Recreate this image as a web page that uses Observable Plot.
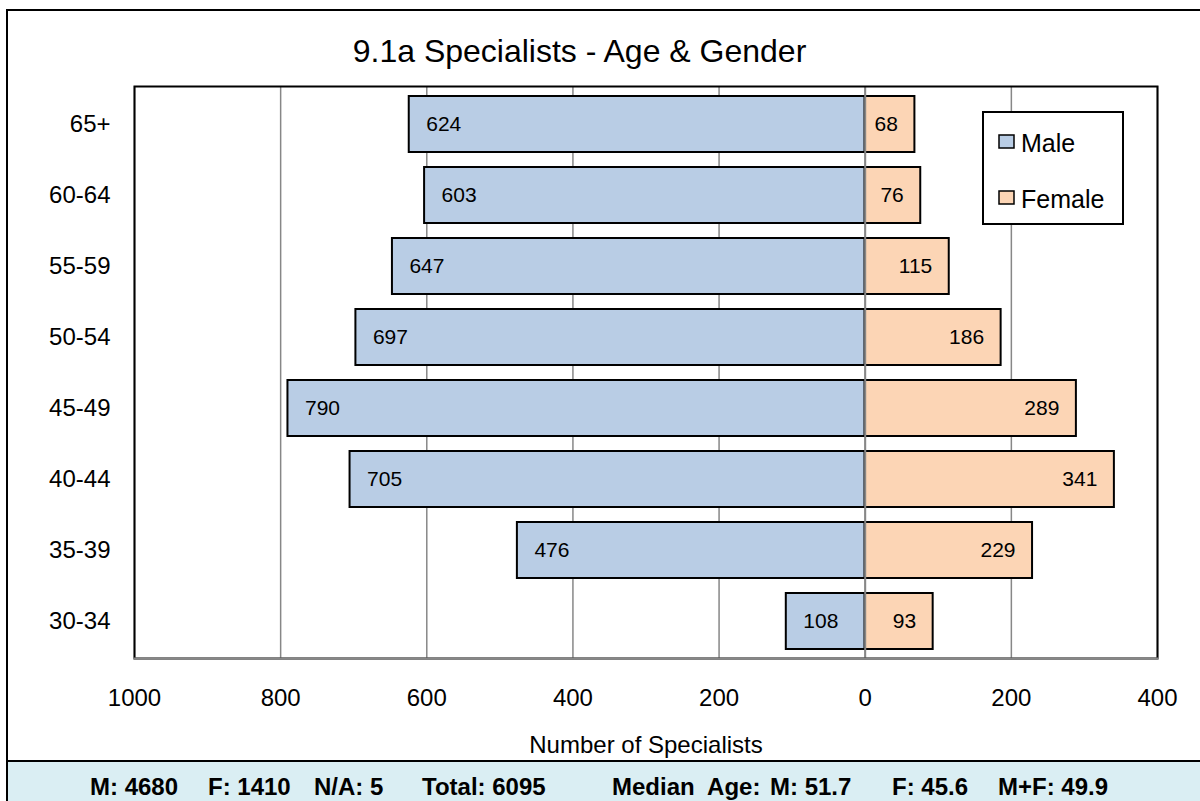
<!DOCTYPE html>
<html>
<head>
<meta charset="utf-8">
<script src="https://cdn.jsdelivr.net/npm/d3@7"></script>
<script src="https://cdn.jsdelivr.net/npm/@observablehq/plot@0.6"></script>
<style>
  body { margin: 0; background: #fff; }
  #chart { position: relative; width: 1200px; height: 801px; overflow: hidden;
           font-family: "Liberation Sans", Arial, sans-serif; color: #000; background: #fff; }
  #border { position: absolute; left: 6px; top: 9px; width: 1300px; height: 900px;
            border-left: 2px solid #000; border-top: 2px solid #000; pointer-events: none; z-index: 5; }
  #title { position: absolute; left: 0; top: 0; width: 1159px; height: 75px; text-align: center;
           font-size: 32px; line-height: 32px; }
  #title span { position: relative; top: 35px; }
  #plot { position: absolute; left: 0; top: 75px; }
  #footer { position: absolute; left: 7px; top: 760px; width: 1200px; height: 41px;
            border-top: 2px solid #000; background: #DAEEF3; font-weight: bold; font-size: 24px; }
  #footer span { position: absolute; top: 13px; line-height: 24px; white-space: pre; }
</style>
</head>
<body>
<div id="chart">
  <div id="title"><span>9.1a Specialists - Age &amp; Gender</span></div>
  <div id="plot"></div>
  <div id="footer"></div>
  <div id="border"></div>
</div>
<script>
// ---- data ----
const ages = ["65+", "60-64", "55-59", "50-54", "45-49", "40-44", "35-39", "30-34"];
const male = [624, 603, 647, 697, 790, 705, 476, 108];
const female = [68, 76, 115, 186, 289, 341, 229, 93];
const series = ["Male", "Female"];
const xTicks = [-1000, -800, -600, -400, -200, 0, 200, 400];
const axisTitle = "Number of Specialists";
const totalLabels = ["M", "F", "N/A", "Total"];
const totalValues = [4680, 1410, 5, 6095];
const medianLabels = ["M", "F", "M+F"];
const medianValues = [51.7, 45.6, 49.9];

// ---- build table ----
const rows = [];
ages.forEach((a, i) => {
  rows.push({age: a, sex: "Male", value: -male[i], label: male[i]});
  rows.push({age: a, sex: "Female", value: female[i], label: female[i]});
});
const maleRows = rows.filter(d => d.sex === "Male");
const femaleRows = rows.filter(d => d.sex === "Female");

const font = '"Liberation Sans", Arial, sans-serif';
const H = 687;

const chart = Plot.plot({
  width: 1200,
  height: H,
  marginTop: 11,
  marginBottom: 104,
  marginLeft: 134,
  marginRight: 43,
  style: {fontFamily: font, fontSize: "22px", color: "#000", background: "transparent", overflow: "visible"},
  x: {domain: [-1000, 400], label: null},
  y: {domain: ages, paddingInner: 0.217, paddingOuter: 0.1085, label: null},
  color: {domain: series, range: ["#B9CDE5", "#FCD5B5"]},
  marks: [
    Plot.gridX(xTicks, {stroke: "#878787", strokeOpacity: 1, strokeWidth: 1.5}),
    Plot.barX(rows, {x: "value", y: "age", fill: "sex", stroke: "#000", strokeWidth: 2}),
    Plot.ruleX([0], {stroke: "#878787", strokeWidth: 2}),
    Plot.text(maleRows, {x: "value", y: "age", text: "label", textAnchor: "start", dx: 17, fontSize: 21, fill: "#000"}),
    Plot.text(femaleRows, {x: "value", y: "age", text: "label", textAnchor: "end", dx: -17, fontSize: 21, fill: "#000"}),
    Plot.frame({stroke: "#000", strokeWidth: 2}),
    Plot.frame({anchor: "bottom", stroke: "#878787", strokeWidth: 2}),
    Plot.axisX(xTicks, {tickSize: 0, tickPadding: 30, fontSize: 24, tickFormat: d => String(Math.abs(d)), label: null}),
    Plot.axisY({tickSize: 0, tickPadding: 24, fontSize: 24, label: null}),
    Plot.text([axisTitle], {frameAnchor: "bottom", dy: 94, lineAnchor: "bottom", fontSize: 24, fill: "#000"})
  ]
});
document.getElementById("plot").appendChild(chart);

// ---- legend inside the svg ----
const svg = d3.select(chart);
const lg = svg.append("g").attr("font-family", font).attr("font-size", 25).attr("text-anchor", "start");
lg.append("rect").attr("x", 983).attr("y", 37).attr("width", 140).attr("height", 112)
  .attr("fill", "#fff").attr("stroke", "#000").attr("stroke-width", 2);
const colorScale = chart.scale("color");
series.forEach((s, i) => {
  const y0 = 60 + i * 56;
  lg.append("rect").attr("x", 999).attr("y", y0).attr("width", 15).attr("height", 13)
    .attr("fill", colorScale.range[i]).attr("stroke", "#000").attr("stroke-width", 1.5);
  lg.append("text").attr("x", 1021).attr("y", y0 + 17).attr("fill", "#000").attr("text-anchor", "start").text(s);
});

// ---- footer ----
const footer = document.getElementById("footer");
const segs = [];
totalLabels.forEach((l, i) => segs.push(`${l}: ${totalValues[i]}`));
segs.push("Median  Age:");
medianLabels.forEach((l, i) => segs.push(`${l}: ${medianValues[i].toFixed(1)}`));
const segX = [83, 201, 307, 415, 605, 763, 885, 991];
segs.forEach((t, i) => {
  const s = document.createElement("span");
  s.textContent = t;
  s.style.left = segX[i] + "px";
  footer.appendChild(s);
});
</script>
</body>
</html>
